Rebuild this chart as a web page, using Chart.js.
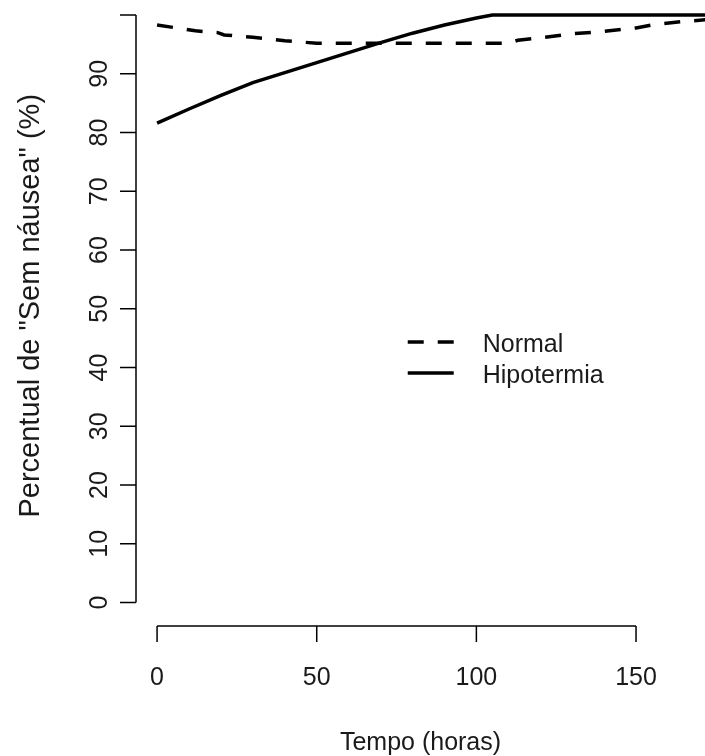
<!DOCTYPE html>
<html>
<head>
<meta charset="utf-8">
<script src="https://cdn.jsdelivr.net/npm/chart.js@4/dist/chart.umd.min.js"></script>
<style>
  html, body { margin: 0; padding: 0; background: #ffffff; }
</style>
</head>
<body>
<canvas id="chart" width="705" height="756"></canvas>
<script>
// Data (tempo em horas, percentual sem náusea)
var normalTempo = [0, 12, 19, 21, 30, 40, 50, 60, 70, 80, 90, 100, 110, 113, 120, 130, 140, 150, 155, 165, 172];
var normalPct   = [98.3, 97.3, 97.0, 96.6, 96.2, 95.6, 95.2, 95.2, 95.2, 95.2, 95.2, 95.2, 95.2, 95.7, 96.1, 96.8, 97.2, 97.8, 98.3, 98.9, 99.2];
var hipoTempo = [0, 10, 20, 30, 40, 50, 60, 70, 80, 90, 100, 105, 172];
var hipoPct   = [81.6, 84.0, 86.3, 88.5, 90.2, 91.9, 93.6, 95.3, 96.9, 98.3, 99.5, 100, 100];

var seriesNames = ['Normal', 'Hipotermia'];
var xTicks = [0, 50, 100, 150];
var yTicks = [0, 10, 20, 30, 40, 50, 60, 70, 80, 90, 100];
var yTickLabels = ['0', '10', '20', '30', '40', '50', '60', '70', '80', '90', ''];
var xTitle = 'Tempo (horas)';
var yTitle = 'Percentual de "Sem náusea" (%)';

var FONT = '25px "Liberation Sans", Arial, sans-serif';
var YTITLE_FONT = '29px "Liberation Sans", Arial, sans-serif';
var TEXT = '#1a1a1a';

function toPoints(xs, ys) {
    var pts = [];
    for (var i = 0; i < xs.length; i++) {
        pts.push({ x: xs[i], y: ys[i] });
    }
    return pts;
}

// R style axes: lines only over the tick range, outward ticks
var rAxes = {
    id: 'rAxes',
    afterDraw: function (chart) {
        var ctx = chart.ctx;
        var xs = chart.scales.x;
        var ys = chart.scales.y;
        var area = chart.chartArea;
        var tick = 16;

        ctx.save();
        ctx.strokeStyle = '#000';
        ctx.lineWidth = 1.5;
        ctx.fillStyle = TEXT;
        ctx.font = FONT;

        // x axis
        var yb = area.bottom;
        ctx.beginPath();
        ctx.moveTo(xs.getPixelForValue(xTicks[0]), yb);
        ctx.lineTo(xs.getPixelForValue(xTicks[xTicks.length - 1]), yb);
        for (var i = 0; i < xTicks.length; i++) {
            var px = xs.getPixelForValue(xTicks[i]);
            ctx.moveTo(px, yb);
            ctx.lineTo(px, yb + tick);
        }
        ctx.stroke();
        ctx.textAlign = 'center';
        ctx.textBaseline = 'alphabetic';
        for (var i = 0; i < xTicks.length; i++) {
            ctx.fillText(String(xTicks[i]), xs.getPixelForValue(xTicks[i]), yb + 59);
        }
        ctx.fillText(xTitle, (area.left + area.right) / 2, yb + 124);

        // y axis
        var xl = area.left;
        ctx.beginPath();
        ctx.moveTo(xl, ys.getPixelForValue(yTicks[0]));
        ctx.lineTo(xl, ys.getPixelForValue(yTicks[yTicks.length - 1]));
        for (var j = 0; j < yTicks.length; j++) {
            var py = ys.getPixelForValue(yTicks[j]);
            ctx.moveTo(xl, py);
            ctx.lineTo(xl - tick, py);
        }
        ctx.stroke();
        for (var j = 0; j < yTicks.length; j++) {
            ctx.save();
            ctx.translate(xl - 29, ys.getPixelForValue(yTicks[j]));
            ctx.rotate(-Math.PI / 2);
            ctx.fillText(yTickLabels[j], 0, 0);
            ctx.restore();
        }
        ctx.save();
        ctx.font = YTITLE_FONT;
        ctx.translate(39, ys.getPixelForValue(50) - 3);
        ctx.rotate(-Math.PI / 2);
        ctx.fillText(yTitle, 0, 0);
        ctx.restore();

        // legend
        var ds = chart.data.datasets;
        var lx = xs.getPixelForValue(78.5);
        var rows = [342, 373];
        for (var k = 0; k < ds.length; k++) {
            ctx.beginPath();
            ctx.lineWidth = ds[k].borderWidth;
            ctx.setLineDash(ds[k].borderDash || []);
            ctx.moveTo(lx, rows[k]);
            ctx.lineTo(lx + 46, rows[k]);
            ctx.stroke();
            ctx.setLineDash([]);
            ctx.textAlign = 'left';
            ctx.fillText(ds[k].label, lx + 75, rows[k] + 10);
        }
        ctx.restore();
    }
};

var ctx = document.getElementById('chart').getContext('2d');
window.survChart = new Chart(ctx, {
    type: 'line',
    data: {
        datasets: [{
            label: seriesNames[0],
            data: toPoints(normalTempo, normalPct),
            borderColor: '#000',
            borderWidth: 3.5,
            borderDash: [16, 14],
            pointRadius: 0,
            tension: 0,
            fill: false
        }, {
            label: seriesNames[1],
            data: toPoints(hipoTempo, hipoPct),
            borderColor: '#000',
            borderWidth: 3.5,
            pointRadius: 0,
            tension: 0,
            fill: false
        }]
    },
    options: {
        responsive: false,
        animation: false,
        devicePixelRatio: 1,
        layout: { padding: { left: 136, right: 0, top: 0, bottom: 130 } },
        plugins: { legend: { display: false }, tooltip: { enabled: false } },
        scales: {
            x: { type: 'linear', min: -6.6, max: 171.6, display: false },
            y: { type: 'linear', min: -4, max: 102.55, display: false }
        }
    },
    plugins: [rAxes]
});
</script>
</body>
</html>
